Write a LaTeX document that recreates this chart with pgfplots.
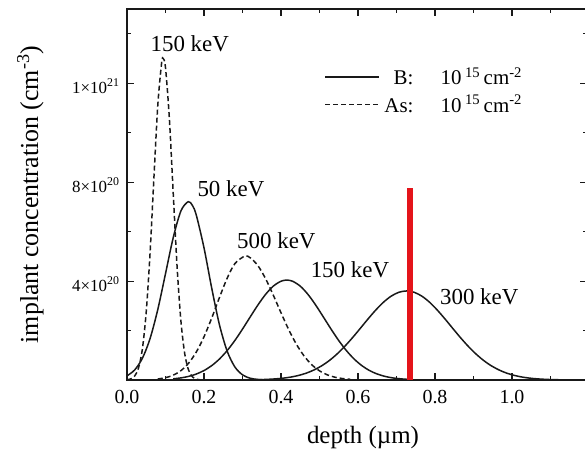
\documentclass[border=0pt]{standalone}
\usepackage{fontspec}
\setmainfont{Liberation Serif}
\usepackage{pgfplots}
\pgfplotsset{compat=1.18}
\definecolor{curve}{RGB}{25,25,25}
\definecolor{redline}{RGB}{228,20,26}
\begin{document}
\begin{tikzpicture}
\begin{axis}[
  scale only axis, width=460bp, height=371bp,
  xmin=0, xmax=1.1948, ymin=0, ymax=15,
  axis line style={line width=1.5bp, curve},
  tick style={line width=1.1bp, curve},
  major tick length=7bp, minor tick length=4.5bp,
  tick align=inside,
  xtick={0,0.2,0.4,0.6,0.8,1.0},
  xticklabels={0.0,0.2,0.4,0.6,0.8,1.0},
  minor xtick={0.1,0.3,0.5,0.7,0.9,1.1},
  ytick={4,8,12},
  yticklabels={4×10\textsuperscript{20},8×10\textsuperscript{20},1×10\textsuperscript{21}},
  minor ytick={2,6,10,14},
  xticklabel style={font=\fontsize{20}{22}\selectfont, yshift=-7bp},
  yticklabel style={font=\fontsize{17}{19}\selectfont, xshift=-4bp, yshift=-3bp},
  xlabel={depth (µm)},
  ylabel={implant concentration (cm\textsuperscript{-3})},
  xlabel style={font=\fontsize{25}{28}\selectfont, at={(axis description cs:0.513,-0.154)}, anchor=center},
  ylabel style={font=\fontsize{26}{29}\selectfont, at={(axis description cs:-0.21,0.5)}, anchor=center},
  legend style={draw=none, fill=none, at={(axis cs:0.505,12.80)}, anchor=north west,
    font=\fontsize{21}{23}\selectfont, row sep=5bp, cells={anchor=west}},
  legend image code/.code={\draw[#1] (0bp,0bp) -- (54bp,0bp);},
  every axis plot/.append style={line width=1.5bp, curve},
  clip=false,
]
% B 50 keV
\addplot[smooth] coordinates {
(0.00,0.168) (0.02,0.408) (0.04,0.879) (0.06,1.680) (0.08,2.852) (0.10,4.298)
(0.12,5.751) (0.14,6.834) (0.159,7.21) (0.17,7.056) (0.18,6.666) (0.20,5.345)
(0.22,3.718) (0.24,2.242) (0.26,1.173) (0.28,0.532) (0.30,0.209) (0.32,0.071)
(0.34,0.021) (0.36,0.005)};
\addlegendentry{\makebox[1.5em][r]{B:}\hspace{1.3em}10\,\textsuperscript{15}\,cm\textsuperscript{-2}}
% As 150 keV
\addplot[smooth, dash pattern=on 5bp off 3bp] coordinates {
(0.00,0.011) (0.01,0.046) (0.02,0.163) (0.03,0.491) (0.04,1.261) (0.05,2.763)
(0.06,5.156) (0.07,8.199) (0.08,11.11) (0.09,12.83) (0.094,13.0) (0.10,12.63)
(0.11,10.59) (0.12,7.570) (0.13,4.610) (0.14,2.392) (0.15,1.058) (0.16,0.399)
(0.17,0.128) (0.18,0.035) (0.19,0.008)};
\addlegendentry{\makebox[1.5em][r]{As:}\hspace{1.3em}10\,\textsuperscript{15}\,cm\textsuperscript{-2}}
% As 500 keV
\addplot[smooth, dash pattern=on 5bp off 3bp] coordinates {
(0.08,0.042) (0.10,0.093) (0.12,0.195) (0.14,0.378) (0.16,0.678) (0.18,1.130)
(0.20,1.746) (0.22,2.503) (0.24,3.329) (0.26,4.108) (0.28,4.702) (0.306,5.01)
(0.32,4.942) (0.34,4.625) (0.36,4.095) (0.38,3.430) (0.40,2.718) (0.42,2.038)
(0.44,1.446) (0.46,0.971) (0.48,0.616) (0.50,0.370) (0.52,0.211) (0.54,0.113)
(0.56,0.058) (0.58,0.028)};
% B 150 keV
\addplot[smooth] coordinates {
(0.12,0.048) (0.14,0.085) (0.16,0.146) (0.18,0.241) (0.20,0.382) (0.22,0.581)
(0.24,0.847) (0.26,1.186) (0.28,1.594) (0.30,2.058) (0.32,2.549) (0.34,3.032)
(0.36,3.462) (0.38,3.795) (0.40,3.994) (0.415,4.04) (0.43,3.994) (0.45,3.795)
(0.47,3.462) (0.49,3.032) (0.51,2.549) (0.53,2.058) (0.55,1.594) (0.57,1.186)
(0.59,0.847) (0.61,0.581) (0.63,0.382) (0.65,0.241) (0.67,0.146) (0.69,0.085)
(0.71,0.048) (0.73,0.026)};
% B 300 keV
\addplot[smooth] coordinates {
(0.326,0.0085) (0.346,0.015) (0.366,0.027) (0.386,0.046) (0.406,0.075) (0.426,0.120)
(0.446,0.186) (0.466,0.279) (0.486,0.408) (0.506,0.577) (0.526,0.793) (0.546,1.058)
(0.566,1.368) (0.586,1.716) (0.606,2.089) (0.626,2.467) (0.646,2.826) (0.666,3.142)
(0.686,3.389) (0.706,3.546) (0.726,3.60) (0.746,3.546) (0.766,3.389) (0.786,3.142)
(0.806,2.826) (0.826,2.467) (0.846,2.089) (0.866,1.716) (0.886,1.368) (0.906,1.058)
(0.926,0.793) (0.946,0.577) (0.966,0.408) (0.986,0.279) (1.006,0.186) (1.026,0.120)
(1.046,0.075) (1.066,0.046) (1.086,0.027) (1.106,0.015) (1.126,0.0085)};
% red marker line
\addplot[redline, line width=5.5bp] coordinates {(0.735,0) (0.735,7.76)};
\node[font=\fontsize{23}{26}\selectfont] at (axis cs:0.163,13.6) {150 keV};
\node[font=\fontsize{23}{26}\selectfont] at (axis cs:0.270,7.72) {50 keV};
\node[font=\fontsize{23}{26}\selectfont] at (axis cs:0.388,5.62) {500 keV};
\node[font=\fontsize{23}{26}\selectfont] at (axis cs:0.579,4.45) {150 keV};
\node[font=\fontsize{23}{26}\selectfont] at (axis cs:0.915,3.36) {300 keV};
\end{axis}
\pgfresetboundingbox
\useasboundingbox ([xshift=-127bp,yshift=-70bp]current axis.south west) rectangle ([xshift=-2bp,yshift=9bp]current axis.north east);
\end{tikzpicture}
\end{document}
